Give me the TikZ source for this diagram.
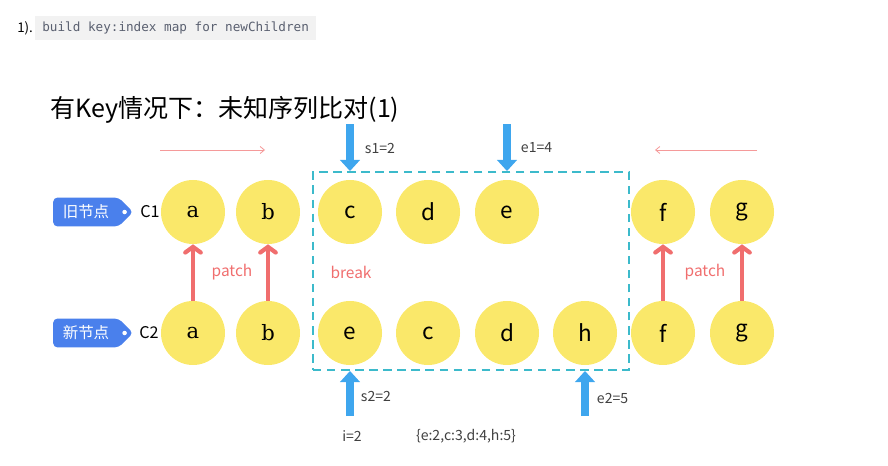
\documentclass[tikz,border=0pt]{standalone}
\usepackage{fontspec}
\setsansfont{Noto Sans CJK SC}
\setmonofont{DejaVu Sans Mono}
\newfontfamily\ballserif{DejaVu Serif}
\usepackage{tikz}
\usetikzlibrary{arrows.meta,shapes.symbols,calc}

\definecolor{ballyellow}{HTML}{FAE86A}
\definecolor{tagblue}{HTML}{4A80EC}
\definecolor{ptrblue}{HTML}{3EA6EE}
\definecolor{patchred}{HTML}{F06E6E}
\definecolor{boxcyan}{HTML}{3CBACB}
\definecolor{codegray}{HTML}{5A6070}

\begin{document}
\begin{tikzpicture}[x=0.025cm,y=-0.025cm,
    ball/.style={circle, fill=ballyellow, minimum size=1.6cm, inner sep=0pt, font=\sffamily\fontsize{16}{16}\selectfont},
    serif ball/.style={ball, font=\ballserif\fontsize{15}{15}\selectfont},
    tag/.style={signal, signal to=east, signal pointer angle=90, fill=tagblue, text=white, rounded corners=3pt,
      minimum height=0.72cm, minimum width=2cm, inner sep=2pt, font=\sffamily\fontsize{11}{11}\selectfont},
    ptr/.style={ptrblue, line width=5pt, -{Triangle[width=14pt,length=8pt]}},
    patch/.style={patchred, line width=3pt, -{Straight Barb[length=4pt,width=11pt,line cap=round]}},
    dir/.style={patchred!70, line width=0.6pt, -{Straight Barb[length=3pt,width=5pt]}},
    lbl/.style={font=\sffamily\fontsize{10}{10}\selectfont, text=black!75},
    red lbl/.style={font=\sffamily\fontsize{11}{11}\selectfont, text=patchred}]
      \useasboundingbox (0,0) rectangle (888,466);

      % Heading
      \node[anchor=west, font=\sffamily\fontsize{9.5}{9.5}\selectfont, inner sep=0pt] (stepno) at (17,28) {1).};
      \node[anchor=west, fill=black!5, text=codegray, font=\ttfamily\fontsize{9}{9}\selectfont,
        minimum height=0.575cm, inner xsep=5pt] (code) at (35,28) {build key:index map for newChildren};
      \node[anchor=west, font=\sffamily\fontsize{17.8}{17.8}\selectfont, inner sep=0pt] (title) at (50,110) {有Key情况下：未知序列比对(1)};

      % Old children
      \foreach \n/\x in {a/193,b/268} \node[serif ball] (o\n) at (\x,212) {\n};
      \foreach \n/\x in {c/350,d/428,e/507,f/663,g/742} \node[ball] (o\n) at (\x,212) {\n};

      % New children
      \foreach \n/\x in {a/193,b/268} \node[serif ball] (n\n) at (\x,333) {\n};
      \foreach \n/\x in {e/350,c/428,d/507,h/585,f/663,g/742} \node[ball] (n\n) at (\x,333) {\n};

      % Tags
      \node[tag] (oldtag) at (86,212) {旧节点\hspace{10pt}};
      \fill[white] ($(oldtag.east)+(-9,0)$) circle (1.6pt);
      \node[font=\sffamily\fontsize{11.5}{11.5}\selectfont] (c1) at (150,212) {C1};
      \node[tag] (newtag) at (86,333) {新节点\hspace{10pt}};
      \fill[white] ($(newtag.east)+(-9,0)$) circle (1.6pt);
      \node[font=\sffamily\fontsize{11.5}{11.5}\selectfont] (c2) at (149,333) {C2};

      % Unknown window
      \node[draw=boxcyan, dashed, line width=1.3pt, dash pattern=on 6pt off 4pt,
        minimum width=7.9cm, minimum height=4.95cm] (win) at (471,271) {};

      % Pointers
      \coordinate (s1top) at (350,124);
      \coordinate (e1top) at (507,124);
      \coordinate (s2bot) at (350,416);
      \coordinate (e2bot) at (585,416);
      \draw[ptr] (s1top) -- (s1top |- win.north);
      \draw[ptr] (e1top) -- (e1top |- win.north);
      \draw[ptr] (s2bot) -- (s2bot |- win.south);
      \draw[ptr] (e2bot) -- (e2bot |- win.south);
      \node[lbl, anchor=west] (s1) at (360,148) {s1=2};
      \node[lbl, anchor=west] (e1) at (516,148) {e1=4};
      \node[lbl, anchor=west] (s2) at (356,396) {s2=2};
      \node[lbl, anchor=west] (e2) at (592,398) {e2=5};
      \node[lbl] (ival) at (352,436) {i=2};
      \node[lbl] (keymap) at (466,436) {\{e:2,c:3,d:4,h:5\}};

      % Scan directions
      \coordinate (l0) at (160,150);
      \coordinate (l1) at (265,150);
      \coordinate (r0) at (757,150);
      \coordinate (r1) at (655,150);
      \draw[dir] (l0) -- (l1);
      \draw[dir] (r0) -- (r1);

      % Patch arrows
      \foreach \n in {a,b,f,g} \draw[patch] (n\n) -- (o\n);
      \node[red lbl] (patchl) at (232,272) {patch};
      \node[red lbl] (brk) at (351,272) {break};
      \node[red lbl] (patchr) at (705,272) {patch};
    \end{tikzpicture}
\end{document}
